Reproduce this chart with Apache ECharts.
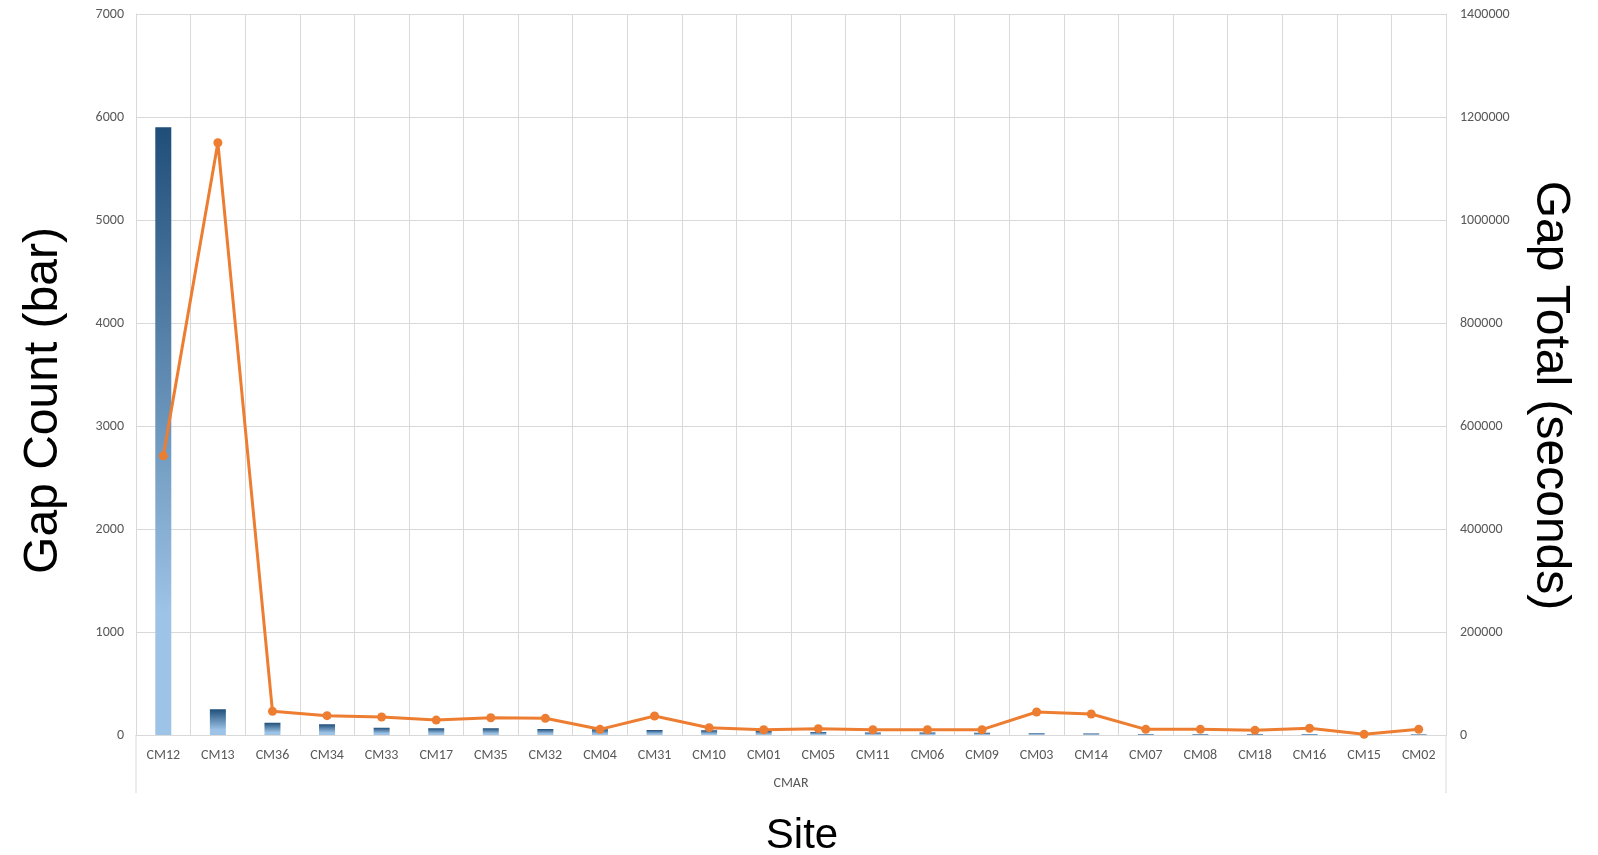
<!DOCTYPE html>
<html>
<head>
<meta charset="utf-8">
<script src="https://cdn.jsdelivr.net/npm/echarts@6/dist/echarts.min.js"></script>
<style>
  html, body { margin: 0; padding: 0; background: #fff; }
  #chart { width: 1598px; height: 855px; }
</style>
</head>
<body>
<div id="chart"></div>
<script>
const sites = ['CM12', 'CM13', 'CM36', 'CM34', 'CM33', 'CM17', 'CM35', 'CM32', 'CM04', 'CM31',
  'CM10', 'CM01', 'CM05', 'CM11', 'CM06', 'CM09', 'CM03', 'CM14', 'CM07', 'CM08',
  'CM18', 'CM16', 'CM15', 'CM02'];
const gapCount = [5900, 250, 120, 104, 71, 65, 65, 58, 55, 48,
  45, 40, 30, 25, 25, 22, 18, 15, 10, 10,
  10, 10, 3, 5];
const gapTotal = [542000, 1150000, 46000, 37500, 35000, 29000, 33600, 32400, 11000, 36900,
  14200, 10300, 12300, 10300, 10300, 10300, 44700, 40800, 11000, 11000,
  9100, 13000, 1300, 11000];
const groupLabel = 'CMAR';

const gridLine = '#d9d9d9';
const tickText = '#595959';
const labelFont = 'Calibri, Carlito, "Open Sans", "Noto Sans", sans-serif';
const titleFont = '"Liberation Sans", Arial, sans-serif';

const chart = echarts.init(document.getElementById('chart'));

const barColor = new echarts.graphic.LinearGradient(0, 0, 0, 1, [
  { offset: 0, color: '#1f4e79' },
  { offset: 0.8, color: '#9dc3e6' },
  { offset: 1, color: '#9dc3e6' }
]);

const plain = (v) => String(v);

chart.setOption({
  animation: false,
  backgroundColor: '#fff',
  grid: { left: 136, right: 152, top: 14, bottom: 120, containLabel: false, outerBoundsMode: 'none' },
  xAxis: {
    type: 'category',
    data: sites,
    name: 'Site',
    nameLocation: 'middle',
    nameGap: 80,
    nameTextStyle: { color: '#000', fontSize: 42, fontFamily: titleFont, padding: [0, 0, 0, 22] },
    axisLine: { lineStyle: { color: gridLine } },
    axisTick: { show: false },
    axisLabel: { color: tickText, fontSize: 14, fontFamily: labelFont, margin: 13, interval: 0 },
    splitLine: { show: true, lineStyle: { color: gridLine } }
  },
  yAxis: [
    {
      type: 'value',
      min: 0,
      max: 7000,
      interval: 1000,
      name: 'Gap Count (bar)',
      nameLocation: 'middle',
      nameRotate: 90,
      nameGap: 68,
      nameTextStyle: { color: '#000', fontSize: 48, fontFamily: titleFont, padding: [0, 52, 0, 0] },
      axisLine: { show: true, lineStyle: { color: gridLine } },
      axisTick: { show: false },
      axisLabel: { color: tickText, fontSize: 14, fontFamily: labelFont, margin: 12, formatter: plain },
      splitLine: { show: true, lineStyle: { color: gridLine } }
    },
    {
      type: 'value',
      min: 0,
      max: 1400000,
      interval: 200000,
      name: 'Gap Total (seconds)',
      nameLocation: 'middle',
      nameRotate: -90,
      nameGap: 80,
      nameTextStyle: { color: '#000', fontSize: 48, fontFamily: titleFont, padding: [0, 0, 0, 42] },
      axisLine: { show: true, lineStyle: { color: gridLine } },
      axisTick: { show: false },
      axisLabel: { color: tickText, fontSize: 14, fontFamily: labelFont, margin: 14, formatter: plain },
      splitLine: { show: false }
    }
  ],
  series: [
    {
      name: 'Gap Count',
      type: 'bar',
      yAxisIndex: 0,
      data: gapCount,
      barWidth: 16,
      itemStyle: { color: barColor }
    },
    {
      name: 'Gap Total',
      type: 'line',
      yAxisIndex: 1,
      data: gapTotal,
      symbol: 'circle',
      symbolSize: 9,
      lineStyle: { color: '#ed7d31', width: 3 },
      itemStyle: { color: '#ed7d31' }
    }
  ]
});

// group box below the category labels (Excel multi-level axis)
const gridRect = chart.getModel().getComponent('grid', 0).coordinateSystem.getRect();
const x0 = gridRect.x;
const x1 = gridRect.x + gridRect.width;
const yb = gridRect.y + gridRect.height;
chart.setOption({
  graphic: [
    { type: 'line', shape: { x1: x0, y1: yb, x2: x0, y2: yb + 58 }, style: { stroke: gridLine, lineWidth: 1 } },
    { type: 'line', shape: { x1: x1, y1: yb, x2: x1, y2: yb + 58 }, style: { stroke: gridLine, lineWidth: 1 } },
    {
      type: 'text',
      x: (x0 + x1) / 2,
      y: yb + 48,
      style: {
        text: groupLabel,
        fill: tickText,
        font: '14px ' + labelFont,
        textAlign: 'center',
        textVerticalAlign: 'middle'
      }
    }
  ]
});
</script>
</body>
</html>
